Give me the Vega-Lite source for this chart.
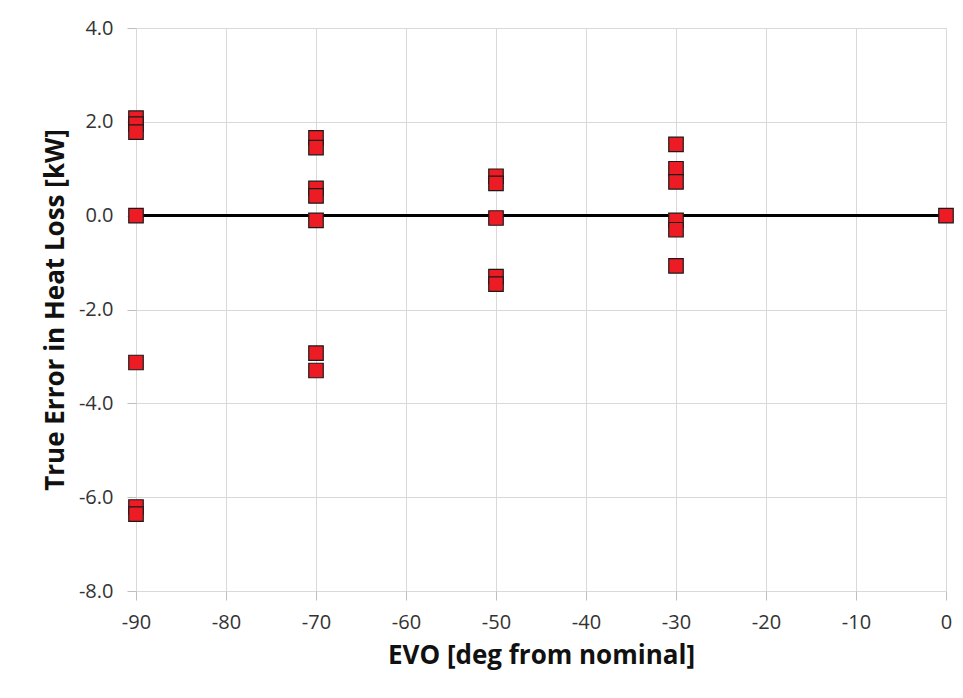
{
  "$schema": "https://vega.github.io/schema/vega-lite/v6.json",
  "width": 810,
  "height": 563,
  "autosize": "none",
  "padding": {"left": 136, "top": 28, "right": 17, "bottom": 107},
  "background": "white",
  "config": {
    "font": "Open Sans",
    "view": {"stroke": null},
    "axis": {
      "grid": true,
      "gridColor": "#d9d9d9",
      "gridWidth": 1,
      "domain": false,
      "tickColor": "#bfbfbf",
      "tickSize": 9,
      "labelFont": "Open Sans",
      "labelFontSize": 20,
      "labelColor": "#333333",
      "labelFlush": false,
      "titleFont": "Open Sans",
      "titleFontSize": 26,
      "titleFontWeight": "bold",
      "titleColor": "#111111"
    }
  },
  "data": {
    "values": [
      {"evo": -90, "err": 2.08},
      {"evo": -90, "err": 1.95},
      {"evo": -90, "err": 1.78},
      {"evo": -90, "err": 0.0},
      {"evo": -90, "err": -3.13},
      {"evo": -90, "err": -6.21},
      {"evo": -90, "err": -6.36},
      {"evo": -70, "err": 1.66},
      {"evo": -70, "err": 1.45},
      {"evo": -70, "err": 0.58},
      {"evo": -70, "err": 0.42},
      {"evo": -70, "err": -0.1},
      {"evo": -70, "err": -2.93},
      {"evo": -70, "err": -3.3},
      {"evo": -50, "err": 0.84},
      {"evo": -50, "err": 0.69},
      {"evo": -50, "err": -0.05},
      {"evo": -50, "err": -1.3},
      {"evo": -50, "err": -1.46},
      {"evo": -30, "err": 1.52},
      {"evo": -30, "err": 1.0},
      {"evo": -30, "err": 0.72},
      {"evo": -30, "err": -0.1},
      {"evo": -30, "err": -0.3},
      {"evo": -30, "err": -1.07},
      {"evo": 0, "err": 0.0}
    ]
  },
  "layer": [
    {
      "mark": {"type": "rule", "color": "#000000", "strokeWidth": 2},
      "encoding": {
        "x": {"datum": -90, "type": "quantitative"},
        "x2": {"datum": 0},
        "y": {"datum": 0, "type": "quantitative"}
      }
    },
    {
      "mark": {"type": "point", "shape": "square", "filled": true, "size": 210, "fill": "#ed1c24", "stroke": "#1a1a1a", "strokeWidth": 1.2, "opacity": 1},
      "encoding": {
        "x": {
          "field": "evo", "type": "quantitative",
          "scale": {"domain": [-90, 0], "nice": false},
          "axis": {"values": [-90, -80, -70, -60, -50, -40, -30, -20, -10, 0], "labelExpr": "replace(datum.label, '−', '-')", "labelPadding": 12, "titlePadding": 10, "title": "EVO [deg from nominal]"}
        },
        "y": {
          "field": "err", "type": "quantitative",
          "scale": {"domain": [-8, 4], "nice": false, "zero": false},
          "axis": {"values": [-8, -6, -4, -2, 0, 2, 4], "format": ".1f", "labelExpr": "replace(datum.label, '−', '-')", "labelPadding": 14, "titlePadding": 10, "title": "True Error in Heat Loss [kW]"}
        }
      }
    }
  ]
}
